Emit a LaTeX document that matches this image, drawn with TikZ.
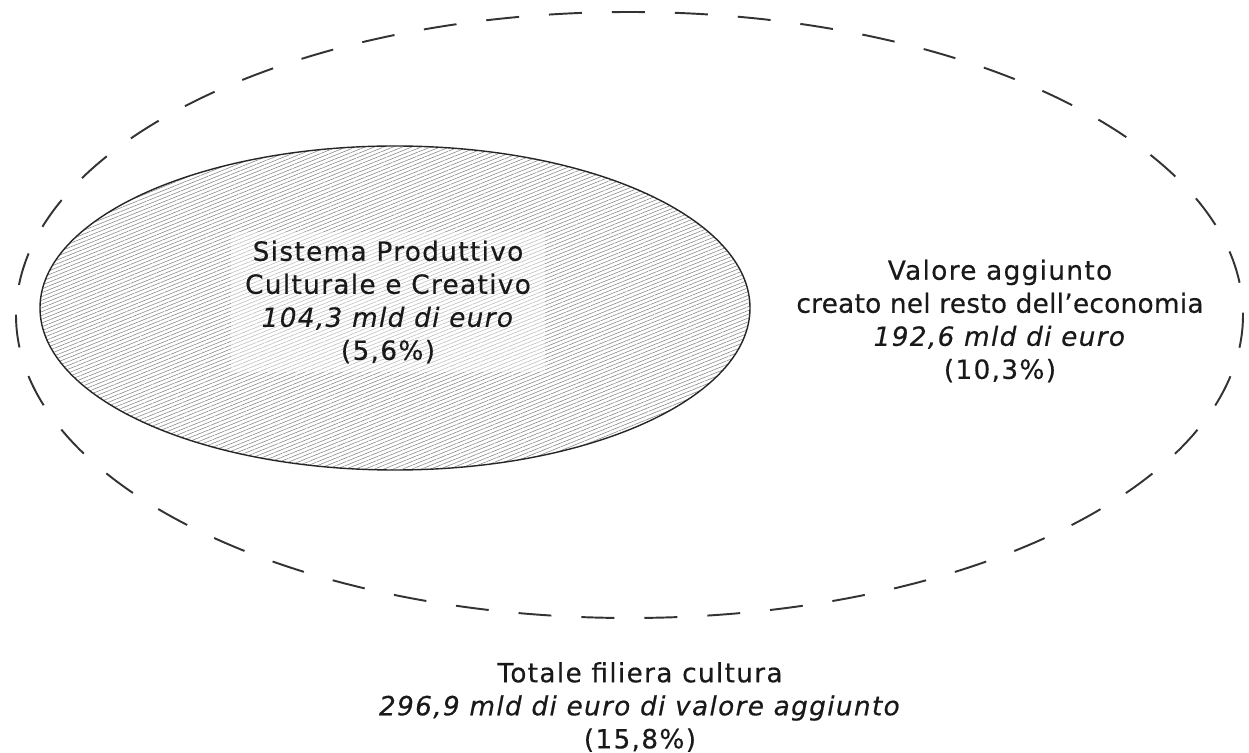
\documentclass[tikz,border=0pt]{standalone}
\usepackage{fontspec}
\setmainfont[LetterSpace=5,FakeBold=0.4]{DejaVu Sans}
\usetikzlibrary{patterns.meta}
\tikzset{
  caption text/.style={align=center, font=\fontsize{15}{18.8}\selectfont, text=black!90},
  outer set/.style={line width=1.1pt, draw=black!80, dash pattern=on 0.66cm off 0.6cm},
  inner set/.style={line width=0.8pt, draw=black!85, pattern={Lines[angle=22,distance=2pt,line width=0.35pt]}, pattern color=black!45},
}
\begin{document}
\begin{tikzpicture}[x=0.02cm, y=-0.02cm]
    \useasboundingbox (0,0) rectangle (1249,753);
    % filiera totale (dashed) and sistema produttivo (hatched)
    \draw[outer set] (629.5,315) ellipse (613.5 and 303);
    \draw[inner set] (395,308) ellipse (355 and 162);
    \node[caption text, fill=white, fill opacity=0.45, text opacity=1, minimum width=6.3cm, minimum height=2.8cm] (spcc) at (388,302)
        {Sistema Produttivo\\Culturale e Creativo\\\textit{104,3 mld di euro}\\(5,6\%)};
    \node[caption text] (resto) at (1000,321)
        {Valore aggiunto\\{\addfontfeature{LetterSpace=1}creato nel resto dell’economia}\\\textit{192,6 mld di euro}\\(10,3\%)};
    \node[caption text] (totale) at (640,707)
        {Totale filiera cultura\\\textit{296,9 mld di euro di valore aggiunto}\\(15,8\%)};
\end{tikzpicture}
\end{document}
